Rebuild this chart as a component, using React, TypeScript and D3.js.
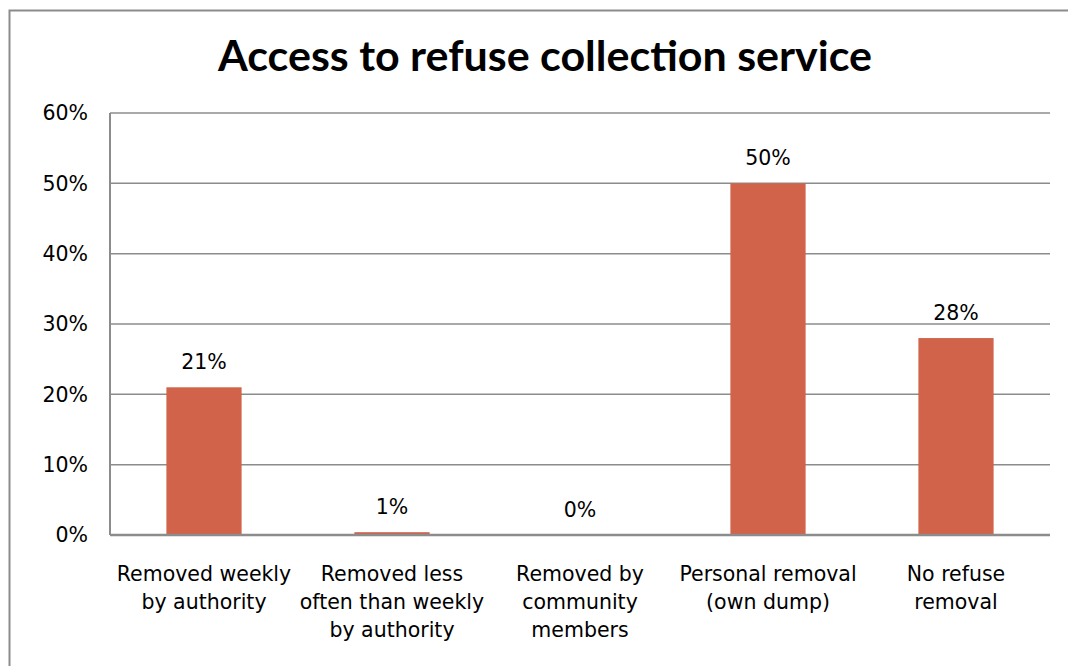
import React from "react";
import * as d3 from "d3";

const title = "Access to refuse collection service";
const categories: string[][] = [
  ["Removed weekly", "by authority"],
  ["Removed less", "often than weekly", "by authority"],
  ["Removed by", "community", "members"],
  ["Personal removal", "(own dump)"],
  ["No refuse", "removal"],
];
const values = [0.21, 0.004, 0, 0.5, 0.28];
const valueLabels = ["21%", "1%", "0%", "50%", "28%"];
const yTicks = [0, 0.1, 0.2, 0.3, 0.4, 0.5, 0.6];

const W = 1068;
const H = 666;
const margin = { left: 110, right: 18, top: 113, bottom: 131 };
const FONT = "'DejaVu Sans', Lato, sans-serif";
const TITLE_FONT = "Lato, 'DejaVu Sans', sans-serif";
const FS = 20.5;

export default function App() {
  const x = d3
    .scaleBand<number>()
    .domain(d3.range(categories.length))
    .range([margin.left, W - margin.right])
    .paddingInner(0.6)
    .paddingOuter(0.3);
  const y = d3.scaleLinear().domain([0, 0.6]).range([H - margin.bottom, margin.top]);
  const fmt = d3.format(".0%");

  return (
    <svg
      width={W}
      height={H}
      style={{ position: "absolute", left: 0, top: 0, background: "#fff" }}
      fontFamily={FONT}
    >
      <rect x={9.5} y={10.5} width={W + 20} height={H + 20} fill="#fff" stroke="#8c8c8c" strokeWidth={2} />
      <text
        x={545}
        y={71}
        textAnchor="middle"
        fontFamily={TITLE_FONT}
        fontSize={42}
        fontWeight={700}
        fill="#000"
        textLength={654}
        lengthAdjust="spacingAndGlyphs"
      >
        {title}
      </text>
      {yTicks.map((t) => (
        <g key={t}>
          {t > 0 && (
            <line x1={margin.left} x2={W - margin.right} y1={y(t)} y2={y(t)} stroke="#8c8c8c" strokeWidth={1.5} />
          )}
          <text x={88} y={y(t)} dy="0.36em" textAnchor="end" fontSize={FS} fill="#000">
            {fmt(t)}
          </text>
        </g>
      ))}
      <line x1={margin.left} x2={margin.left} y1={margin.top} y2={y(0)} stroke="#8c8c8c" strokeWidth={2} />
      {values.map((v, i) => (
        <rect
          key={i}
          x={x(i)!}
          y={y(v)}
          width={x.bandwidth()}
          height={y(0) - y(v)}
          fill="#D1634A"
        />
      ))}
      <line x1={margin.left} x2={W - margin.right} y1={y(0)} y2={y(0)} stroke="#8c8c8c" strokeWidth={2.5} />
      {values.map((v, i) => (
        <text
          key={"l" + i}
          x={x(i)! + x.bandwidth() / 2}
          y={y(v) - 18}
          textAnchor="middle"
          fontSize={FS}
          fill="#000"
        >
          {valueLabels[i]}
        </text>
      ))}
      {categories.map((lines, i) => (
        <text key={"c" + i} y={581} textAnchor="middle" fontSize={FS} fill="#000">
          {lines.map((ln, j) => (
            <tspan key={j} x={x(i)! + x.bandwidth() / 2} dy={j === 0 ? 0 : 28}>
              {ln}
            </tspan>
          ))}
        </text>
      ))}
    </svg>
  );
}
